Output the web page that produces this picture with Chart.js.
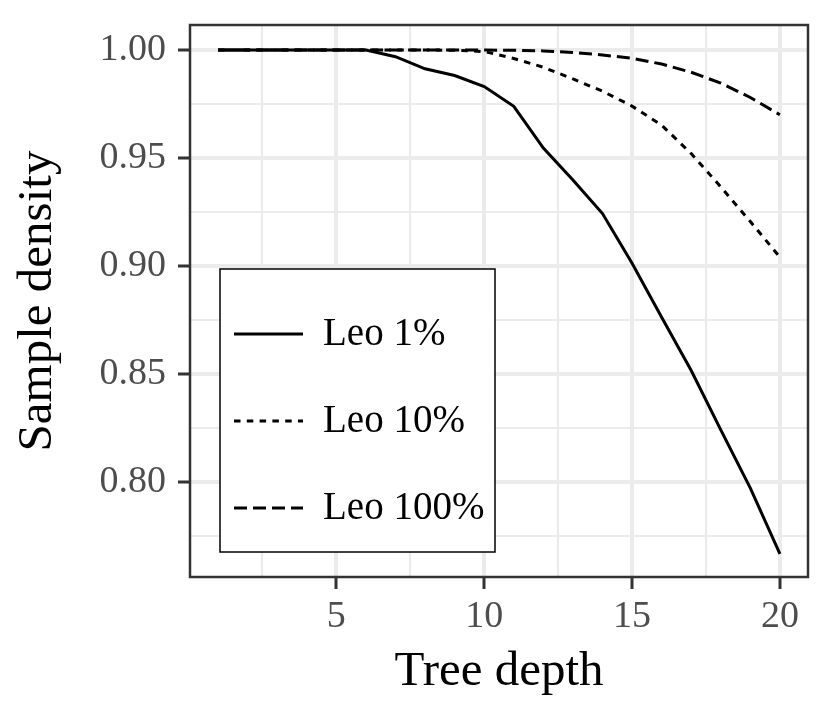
<!DOCTYPE html>
<html>
<head>
<meta charset="utf-8">
<script src="https://cdn.jsdelivr.net/npm/chart.js@4.4.0/dist/chart.umd.min.js"></script>
<style>
  html, body { margin: 0; padding: 0; background: #fff; }
  canvas { display: block; }
</style>
</head>
<body>
<canvas id="densityChart" width="830" height="725"></canvas>
<script>
// tree depth on the x axis
const depths = [1, 2, 3, 4, 5, 6, 7, 8, 9, 10, 11, 12, 13, 14, 15, 16, 17, 18, 19, 20];

// sample density per series
const leo1 = [1.0, 1.0, 1.0, 1.0, 1.0, 1.0, 0.9969, 0.9913, 0.9882, 0.9831,
              0.9739, 0.9546, 0.9398, 0.9242, 0.9012, 0.8762, 0.8515, 0.8240, 0.7970, 0.7665];
const leo10 = [1.0, 1.0, 1.0, 1.0, 1.0, 1.0, 1.0, 1.0, 0.9999, 0.9993,
               0.9961, 0.9920, 0.9866, 0.9809, 0.9740, 0.9652, 0.9520, 0.9366, 0.9205, 0.9040];
const leo100 = [1.0, 1.0, 1.0, 1.0, 1.0, 1.0, 1.0, 1.0, 1.0, 1.0,
                0.9999, 0.9996, 0.9989, 0.9977, 0.9962, 0.9935, 0.9897, 0.9847, 0.9780, 0.9700];

const seriesNames = ["Leo 1%", "Leo 10%", "Leo 100%"];

// ticks
const xMajor = [5, 10, 15, 20];
const xMajorLabels = ["5", "10", "15", "20"];
const xMinor = [2.5, 7.5, 12.5, 17.5];
const yMajor = [0.80, 0.85, 0.90, 0.95, 1.00];
const yMajorLabels = ["0.80", "0.85", "0.90", "0.95", "1.00"];
const yMinor = [0.775, 0.825, 0.875, 0.925, 0.975];

const serif = "'Liberation Serif', 'DejaVu Serif', serif";
const gridColor = "#ebebeb";
const axisColor = "#333333";

function majorIndex(list, v) {
    return list.findIndex(m => Math.abs(m - v) < 1e-9);
}

function points(values) {
    return depths.map((d, i) => ({ x: d, y: values[i] }));
}

function gridFor(majors) {
    return {
        color: gridColor,
        lineWidth: c => (majorIndex(majors, c.tick.value) >= 0 ? 4 : 2),
        tickLength: 12,
        tickWidth: 3,
        tickColor: c => (majorIndex(majors, c.tick.value) >= 0 ? axisColor : "rgba(0,0,0,0)"),
    };
}

// ggplot-like inside legend + panel border
const panelPlugin = {
    id: "panel",
    afterDatasetsDraw(chart) {
        const { ctx, chartArea } = chart;
        ctx.save();

        // legend box
        const bx = chartArea.left + 30;
        const by = chartArea.top + 244;
        const bw = 275;
        const bh = 283;
        ctx.fillStyle = "#fff";
        ctx.fillRect(bx, by, bw, bh);
        ctx.strokeStyle = "#000";
        ctx.lineWidth = 1.5;
        ctx.strokeRect(bx, by, bw, bh);

        ctx.font = "39px " + serif;
        ctx.textBaseline = "middle";
        ctx.textAlign = "left";
        chart.data.datasets.forEach((ds, i) => {
            const ry = by + 65 + i * 87;
            ctx.beginPath();
            ctx.setLineDash(ds.borderDash || []);
            ctx.lineWidth = ds.borderWidth;
            ctx.strokeStyle = ds.borderColor;
            ctx.lineCap = "butt";
            ctx.moveTo(bx + 14, ry);
            ctx.lineTo(bx + 83, ry);
            ctx.stroke();
            ctx.setLineDash([]);
            ctx.fillStyle = "#000";
            ctx.fillText(ds.label, bx + 103, ry + 1);
        });

        // panel border
        ctx.strokeStyle = axisColor;
        ctx.lineWidth = 2.5;
        ctx.strokeRect(chartArea.left, chartArea.top,
                       chartArea.right - chartArea.left, chartArea.bottom - chartArea.top);
        ctx.restore();
    },
};

document.addEventListener("DOMContentLoaded", function () {
    const ctx = document.getElementById("densityChart").getContext("2d");

    const lineStyle = {
        borderColor: "#000",
        borderWidth: 3,
        borderCapStyle: "butt",
        pointRadius: 0,
        tension: 0,
        fill: false,
    };

    const data = {
        datasets: [
            { ...lineStyle, label: seriesNames[0], data: points(leo1), borderDash: [] },
            { ...lineStyle, label: seriesNames[1], data: points(leo10), borderDash: [6.5, 6.3] },
            { ...lineStyle, label: seriesNames[2], data: points(leo100), borderDash: [13, 6] },
        ],
    };

    const options = {
        responsive: false,
        animation: false,
        devicePixelRatio: 1,
        layout: { padding: { left: 0, top: 25, right: 22, bottom: 0 } },
        plugins: { legend: { display: false }, tooltip: { enabled: false } },
        scales: {
            x: {
                type: "linear",
                min: 0.05,
                max: 20.95,
                afterBuildTicks: axis => {
                    axis.ticks = [...xMinor, ...xMajor].sort((a, b) => a - b).map(v => ({ value: v }));
                },
                afterFit: axis => {
                    axis.height = 148;
                    axis.paddingLeft = 0;
                    axis.paddingRight = 0;
                },
                grid: gridFor(xMajor),
                border: { display: false },
                ticks: {
                    autoSkip: false,
                    maxRotation: 0,
                    padding: 5,
                    color: "#4d4d4d",
                    font: { family: serif, size: 38 },
                    callback: v => {
                        const i = majorIndex(xMajor, v);
                        return i >= 0 ? xMajorLabels[i] : "";
                    },
                },
                title: {
                    display: true,
                    text: "Tree depth",
                    color: "#000",
                    font: { family: serif, size: 49 },
                    padding: { top: 0, bottom: 23 },
                },
            },
            y: {
                type: "linear",
                min: 0.7558,
                max: 1.0116,
                afterBuildTicks: axis => {
                    axis.ticks = [...yMinor, ...yMajor].sort((a, b) => a - b).map(v => ({ value: v }));
                },
                afterFit: axis => {
                    axis.width = 190;
                    axis.paddingTop = 0;
                    axis.paddingBottom = 0;
                },
                grid: gridFor(yMajor),
                border: { display: false },
                ticks: {
                    autoSkip: false,
                    padding: 12,
                    color: "#4d4d4d",
                    font: { family: serif, size: 38 },
                    callback: v => {
                        const i = majorIndex(yMajor, v);
                        return i >= 0 ? yMajorLabels[i] : "";
                    },
                },
                title: {
                    display: true,
                    text: "Sample density",
                    color: "#000",
                    font: { family: serif, size: 49 },
                    padding: { top: 9, bottom: 0 },
                },
            },
        },
    };

    new Chart(ctx, {
        type: "line",
        data: data,
        options: options,
        plugins: [panelPlugin],
    });
});
</script>
</body>
</html>
